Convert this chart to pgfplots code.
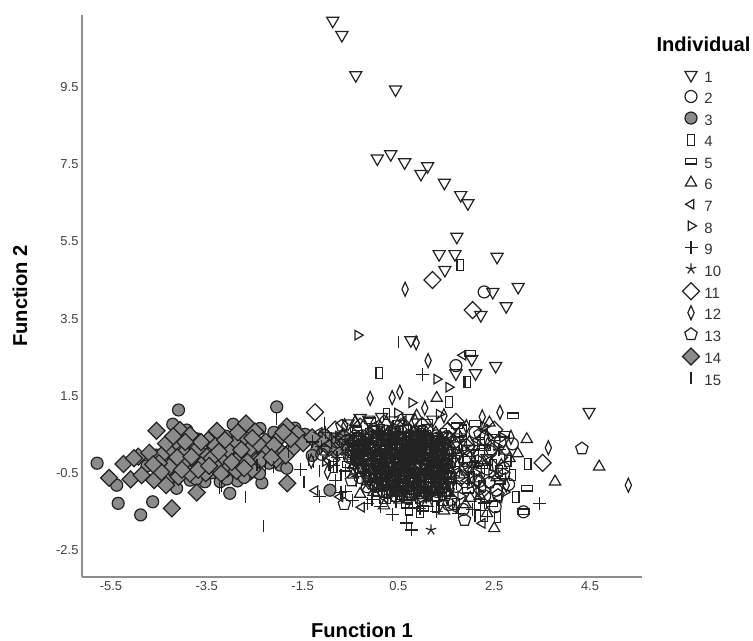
\documentclass[border=0pt]{standalone}
\usepackage{fontspec}
\setmainfont{Liberation Sans}
\usepackage{pgfplots}
\pgfplotsset{compat=1.18}
\definecolor{ink}{HTML}{222222}
\definecolor{gfill}{HTML}{8C8A8A}
\definecolor{spine}{HTML}{8E8E8E}
\pgfplotsset{
 sA/.style={only marks,mark=triangle,mark size=7bp,mark options={rotate=180,draw=ink,fill=none,line width=1.2bp}},
 sB/.style={only marks,mark=o,mark size=6bp,mark options={draw=ink,fill=none,line width=1.2bp}},
 sC/.style={only marks,mark=*,mark size=6bp,mark options={draw=ink,fill=gfill,line width=1.2bp}},
 sD/.style={only marks,mark=square,mark size=5.5bp,mark options={xscale=0.6,draw=ink,fill=none,line width=1.2bp}},
 sE/.style={only marks,mark=square,mark size=5.5bp,mark options={yscale=0.5,draw=ink,fill=none,line width=1.2bp}},
 sF/.style={only marks,mark=triangle,mark size=6.5bp,mark options={draw=ink,fill=none,line width=1.2bp}},
 sG/.style={only marks,mark=triangle,mark size=5.5bp,mark options={rotate=90,draw=ink,fill=none,line width=1.2bp}},
 sH/.style={only marks,mark=triangle,mark size=5.5bp,mark options={rotate=-90,draw=ink,fill=none,line width=1.2bp}},
 sI/.style={only marks,mark=+,mark size=6.5bp,mark options={draw=ink,line width=1.2bp}},
 sJ/.style={only marks,mark=star,mark size=5.5bp,mark options={draw=ink,line width=1.2bp}},
 sK/.style={only marks,mark=diamond,mark size=8.5bp,mark options={xscale=1.33,draw=ink,fill=none,line width=1.2bp}},
 sL/.style={only marks,mark=diamond,mark size=7bp,mark options={xscale=0.6,draw=ink,fill=none,line width=1.2bp}},
 sM/.style={only marks,mark=pentagon,mark size=6.5bp,mark options={draw=ink,fill=none,line width=1.2bp}},
 sN/.style={only marks,mark=diamond*,mark size=8.5bp,mark options={xscale=1.33,draw=ink,fill=gfill,line width=1.2bp}},
 sO/.style={only marks,mark=|,mark size=6bp,mark options={draw=ink,line width=1.2bp}},
}
\begin{document}
\begin{tikzpicture}
\useasboundingbox (-82bp,-64bp) rectangle (671bp,577bp);
\begin{axis}[
 scale only axis,width=560bp,height=562bp,
 xmin=-6.105,xmax=5.585,ymin=-3.2,ymax=11.37,
 axis lines=left,axis line style={-,draw=spine,line width=1.4bp},
 major tick length=0pt,clip=false,
 xtick={-5.5,-3.5,-1.5,0.5,2.5,4.5},
 ytick={-2.5,-0.5,1.5,3.5,5.5,7.5,9.5},
 tick label style={font=\fontsize{13}{14}\selectfont,text=black!75},
 /pgf/number format/.cd,fixed,fixed zerofill,precision=1,assume math mode=true,
 /pgfplots/.cd,
 xticklabel style={yshift=-1bp},
 xlabel={Function 1},ylabel={Function 2},
 every axis x label/.style={at={(axis description cs:0.5,-0.0943)},anchor=center,font=\fontsize{20.2}{21}\selectfont\bfseries},
 every axis y label/.style={at={(axis description cs:-0.1107,0.5)},anchor=center,rotate=90,font=\fontsize{20.2}{21}\selectfont\bfseries},
 legend style={at={(axis description cs:1.072,0.9075)},anchor=north west,draw=none,fill=none,inner sep=0pt,
   font=\fontsize{15}{15}\selectfont,text=black!80,row sep=0bp,
   nodes={inner sep=0pt,text height=15bp,text depth=6.55bp},
   /tikz/every odd column/.style={column sep=5bp}},
 legend cell align=left,
 legend image post style={yshift=3bp},
]
\addlegendimage{sA}\addlegendentry{1}
\addlegendimage{sB}\addlegendentry{2}
\addlegendimage{sC}\addlegendentry{3}
\addlegendimage{sD}\addlegendentry{4}
\addlegendimage{sE}\addlegendentry{5}
\addlegendimage{sF}\addlegendentry{6}
\addlegendimage{sG}\addlegendentry{7}
\addlegendimage{sH}\addlegendentry{8}
\addlegendimage{sI}\addlegendentry{9}
\addlegendimage{sJ}\addlegendentry{10}
\addlegendimage{sK}\addlegendentry{11}
\addlegendimage{sL}\addlegendentry{12}
\addlegendimage{sM}\addlegendentry{13}
\addlegendimage{sN}\addlegendentry{14}
\addlegendimage{sO}\addlegendentry{15}
\node[font=\fontsize{20.2}{21}\selectfont\bfseries,anchor=center] at (axis description cs:1.1098,0.948) {Individual};
% series 3
\addplot[sC,forget plot] coordinates {(-5.79,-0.25)(-5.38,-0.82)(-5.35,-1.29)(-4.88,-1.59)(-4.63,-1.25)(-4.09,1.13)(-4.21,0.76)(-2.04,1.21)(-2.95,0.76)(-2.35,-0.76)(-3.02,-1.03)(-4.13,-0.90)(-0.93,-0.95)(-4.55,-0.04)(-4.75,-0.32)(-4.51,-0.47)(-3.85,-0.69)(-3.54,-0.73)(-3.22,-0.73)(-2.86,-0.71)(-2.53,-0.47)(-1.97,-0.30)(-1.83,-0.38)(-2.39,0.65)(-3.92,0.61)(-4.06,-0.43)(-4.40,-0.60)(-4.28,0.10)(-3.70,0.38)(-3.40,-0.50)(-3.10,0.45)(-2.65,-0.55)(-2.20,-0.25)(-2.10,0.55)(-1.70,0.30)(-1.45,0.50)(-1.20,0.12)(-0.85,0.38)(-4.20,-0.20)(-3.60,-0.30)(-3.00,-0.25)(-2.40,0.20)
(-3.72,-0.66)(-3.08,-0.66)(-2.72,-0.62)(-4.28,-0.62)(-2.40,-0.52)(-1.66,0.66)(-1.30,-0.05)(-1.05,0.48)};
% series 14
\addplot[sN,forget plot] coordinates {(-4.55,0.59)(-5.24,-0.27)(-5.54,-0.63)(-5.09,-0.67)(-4.60,-0.69)(-4.35,-0.82)(-4.23,-1.42)(-3.71,-1.01)(-1.82,-0.77)(-4.93,-0.08)(-4.86,-0.56)(-4.06,0.61)(-3.85,0.48)(-3.47,0.35)(-3.29,0.59)(-2.68,0.78)(-2.49,0.57)(-1.83,0.70)(-1.62,0.52)(-1.49,0.27)(-0.68,0.18)(-0.65,0.44)(-1.97,0.42)(-2.27,0.31)(-2.74,0.37)(-2.91,0.26)(-3.06,0.09)(-2.63,0.09)(-2.18,-0.01)(-1.99,0.09)(-2.82,-0.10)(-3.19,-0.17)(-3.31,-0.34)(-3.50,-0.08)(-3.73,-0.27)(-3.95,0.05)(-4.14,0.31)(-4.35,0.26)(-4.28,-0.34)(-3.99,-0.25)(-4.09,-0.60)(-3.52,-0.51)(-3.07,-0.39)(-2.88,-0.45)(-4.45,-0.05)(-4.70,0.02)(-5.02,-0.12)(-3.70,0.12)(-3.32,0.20)(-2.47,-0.20)(-2.30,0.05)(-2.55,-0.42)(-3.85,-0.52)(-1.72,0.12)(-1.12,0.35)(-0.82,0.08)(-2.05,-0.15)(-3.62,-0.30)(-4.12,-0.10)(-4.20,0.45)(-3.62,0.30)(-3.12,0.35)(-2.85,0.55)(-2.42,0.25)(-2.10,0.22)(-1.75,0.38)(-4.50,-0.25)(-3.82,-0.08)(-3.40,-0.12)(-2.98,-0.22)(-2.65,-0.22)(-2.35,-0.15)(-1.85,-0.05)(-4.45,-0.48)(-3.68,-0.42)(-3.20,-0.52)(-2.72,-0.38)(-4.62,-0.28)(-1.30,0.42)(-0.95,0.15)
(-3.95,0.30)(-3.25,0.05)(-2.55,0.40)(-1.90,0.55)(-4.02,-0.42)(-3.45,-0.32)(-2.78,0.10)(-2.15,-0.10)};
% series 1
\addplot[sA,forget plot] coordinates {(-0.87,11.22)(-0.68,10.85)(-0.39,9.81)(0.44,9.44)(0.06,7.65)(0.34,7.76)(0.63,7.55)(0.97,7.25)(1.11,7.45)(1.46,7.02)(1.80,6.70)(1.95,6.49)(1.72,5.62)(1.35,5.17)(1.68,5.17)(2.56,5.10)(1.47,4.76)(3.00,4.32)(2.47,4.19)(2.75,3.82)(2.22,3.59)(0.76,2.94)(2.03,2.45)(2.53,2.27)(2.11,2.08)(1.70,2.08)(4.48,1.08)(-0.30,0.92)(0.15,0.95)(0.05,0.62)(0.42,0.55)(0.70,0.48)(-0.18,0.40)(0.28,0.22)(0.88,0.30)(1.12,0.18)(-0.35,0.10)(0.55,0.05)(1.30,-0.05)(0.10,-0.12)(0.78,-0.25)(-0.10,-0.38)(0.40,-0.50)(1.02,-0.60)(0.22,-0.72)(0.65,-0.85)(1.25,-0.42)(-0.42,0.25)(0.95,0.62)(1.45,0.12)(0.32,-0.30)(0.60,0.32)(1.08,-0.18)(-0.05,0.18)(0.48,-0.10)(0.85,-0.48)(1.38,-0.70)
(0.40,0.60)(0.96,0.62)(-0.12,0.44)(0.42,0.48)(0.98,0.44)(1.44,0.46)(-0.38,0.36)(0.18,0.38)(0.74,0.36)(1.28,0.36)(-0.18,0.24)(0.38,0.26)(0.94,0.24)(1.50,0.24)(-0.44,0.12)(0.12,0.14)(0.68,0.12)(1.24,0.14)(-0.08,0.00)(0.52,0.02)(1.08,0.00)(1.58,0.02)(-0.34,-0.12)(0.26,-0.10)(0.82,-0.12)(1.38,-0.10)(0.02,-0.24)(0.62,-0.22)(1.18,-0.24)(1.62,-0.22)(-0.28,-0.36)(0.34,-0.34)(0.88,-0.36)(1.44,-0.34)(0.08,-0.48)(0.68,-0.46)(1.22,-0.48)(-0.18,-0.60)(0.42,-0.58)(0.98,-0.60)(1.52,-0.58)(0.18,-0.72)(0.74,-0.70)(1.28,-0.72)(-0.04,-0.84)(0.52,-0.82)(1.08,-0.84)(1.58,-0.82)(0.32,-0.96)(0.88,-0.94)(1.42,-0.96)(0.58,-1.08)(1.12,-1.06)
(-0.55,0.78)(-0.12,0.88)(0.38,0.86)(0.70,0.92)(1.22,0.88)(1.78,0.42)(2.05,0.12)(2.35,-0.12)(1.92,-0.32)};
% series 2
\addplot[sB,forget plot] coordinates {(2.29,4.19)(1.70,2.28)(3.11,-1.51)(2.62,0.30)(2.35,-0.40)(2.10,0.55)(2.80,-0.80)(2.30,-1.10)(1.85,-1.45)(2.55,-0.95)(-0.40,0.45)(-0.10,0.12)(0.25,0.58)(0.58,0.20)(0.92,0.45)(1.20,0.05)(-0.25,-0.35)(0.12,-0.55)(0.48,-0.28)(0.82,-0.72)(1.18,-0.38)(1.42,-0.88)(0.35,0.02)(0.70,-0.12)(1.05,0.28)(-0.52,-0.10)(0.02,-0.85)(0.60,-0.62)(0.95,-1.02)(1.32,0.40)(0.18,0.35)(-0.15,-0.18)(1.55,-0.30)(0.75,0.08)(0.42,-0.90)(1.10,-0.80)
(0.00,0.58)(0.55,0.58)(1.00,0.58)(-0.25,0.46)(0.30,0.46)(0.85,0.46)(1.30,0.46)(-0.50,0.34)(0.05,0.34)(0.60,0.34)(1.15,0.34)(-0.30,0.22)(0.25,0.22)(0.80,0.22)(1.35,0.22)(-0.55,0.10)(0.00,0.10)(0.55,0.10)(1.10,0.10)(-0.20,-0.02)(0.40,-0.02)(0.95,-0.02)(1.45,-0.02)(-0.45,-0.14)(0.15,-0.14)(0.70,-0.14)(1.25,-0.14)(-0.10,-0.26)(0.50,-0.26)(1.05,-0.26)(1.50,-0.26)(-0.40,-0.38)(0.20,-0.38)(0.75,-0.38)(1.30,-0.38)(-0.05,-0.50)(0.55,-0.50)(1.10,-0.50)(1.55,-0.50)(-0.30,-0.62)(0.30,-0.62)(0.85,-0.62)(1.40,-0.62)(0.05,-0.74)(0.60,-0.74)(1.15,-0.74)(-0.15,-0.86)(0.40,-0.86)(0.95,-0.86)(1.45,-0.86)(0.20,-0.98)(0.75,-0.98)(1.30,-0.98)(0.45,-1.10)(1.00,-1.10)
(1.72,0.15)(1.88,-0.18)(2.18,-0.72)(2.42,0.05)(2.70,-0.38)(2.88,0.25)(1.70,-0.85)(2.52,-1.38)(1.55,-1.32)(-0.78,0.30)(-1.10,-0.02)};
% series 4
\addplot[sD,forget plot] coordinates {(1.79,4.89)(0.10,2.09)(1.94,1.86)(1.56,1.33)(3.20,-0.28)(2.57,-1.65)(2.29,-1.62)(2.95,-1.12)(2.60,-0.45)(2.10,-0.05)(1.85,0.60)(2.78,-0.20)(1.70,-1.30)(2.25,-0.85)(-0.20,0.35)(0.08,0.10)(0.38,0.40)(0.65,0.62)(0.90,0.05)(1.22,0.32)(1.48,-0.15)(-0.32,-0.45)(0.05,-0.32)(0.30,-0.78)(0.62,-0.42)(0.88,-0.90)(1.15,-0.58)(1.40,-1.05)(0.45,0.15)(0.78,-0.02)(1.02,-0.30)(-0.48,0.05)(0.20,-0.12)(0.55,-1.05)(1.28,-0.22)(0.95,-0.70)(1.60,-0.60)
(0.14,0.62)(0.68,0.60)(1.14,0.62)(-0.12,0.50)(0.44,0.50)(0.98,0.50)(1.44,0.50)(-0.36,0.38)(0.20,0.38)(0.74,0.38)(1.28,0.38)(-0.16,0.26)(0.40,0.26)(0.94,0.26)(1.48,0.26)(-0.40,0.14)(0.14,0.14)(0.70,0.14)(1.24,0.14)(-0.06,0.02)(0.54,0.02)(1.08,0.02)(1.58,0.02)(-0.30,-0.10)(0.30,-0.10)(0.84,-0.10)(1.38,-0.10)(0.04,-0.22)(0.64,-0.22)(1.18,-0.22)(1.62,-0.22)(-0.26,-0.34)(0.34,-0.34)(0.90,-0.34)(1.44,-0.34)(0.10,-0.46)(0.68,-0.46)(1.24,-0.46)(-0.16,-0.58)(0.44,-0.58)(1.00,-0.58)(1.54,-0.58)(0.20,-0.70)(0.74,-0.70)(1.30,-0.70)(-0.02,-0.82)(0.54,-0.82)(1.10,-0.82)(1.58,-0.82)(0.34,-0.94)(0.88,-0.94)(1.44,-0.94)(0.60,-1.06)(1.14,-1.06)
(1.70,-0.20)(1.85,0.22)(2.02,-0.62)(2.22,0.28)(2.48,-0.30)(2.88,-0.55)(2.15,-1.32)(0.95,-1.52)(0.72,-1.45)(1.28,-1.38)(0.25,1.02)(-0.85,-0.35)};
% series 5
\addplot[sE,forget plot] coordinates {(1.99,2.60)(3.19,-0.90)(2.89,0.98)(3.11,-1.51)(2.70,0.50)(2.30,0.15)(1.95,-0.95)(2.45,-1.30)(2.05,-0.30)(1.72,0.72)(2.62,-0.72)(-0.38,0.62)(-0.08,0.32)(0.22,0.05)(0.52,0.48)(0.82,0.18)(1.12,0.42)(1.38,-0.28)(-0.28,-0.22)(0.00,-0.62)(0.28,-0.42)(0.58,-0.75)(0.85,-0.32)(1.15,-0.95)(1.48,-0.52)(0.38,-0.18)(0.68,0.00)(1.00,-0.08)(-0.55,-0.28)(0.15,0.28)(0.72,-1.12)(1.25,-1.15)(0.92,-0.55)(0.45,0.30)(0.10,-1.05)(1.58,0.08)(-0.62,0.30)(1.05,0.52)
(0.22,-1.22)(0.68,-1.34)(1.02,-1.42)(1.42,-1.28)(1.80,0.38)(1.98,-0.15)(2.25,-0.32)(2.50,0.42)(2.10,0.78)(-0.10,0.85)(0.50,0.78)(1.10,0.82)(0.32,-0.46)(0.72,-0.56)(1.12,-0.12)(-0.15,0.05)(0.48,-0.94)(0.98,0.35)};
% series 6
\addplot[sF,forget plot] coordinates {(4.69,-0.34)(3.77,-0.73)(3.18,0.37)(2.99,0.00)(2.74,0.07)(2.50,-1.94)(1.30,1.44)(2.40,0.80)(2.20,-0.65)(1.98,0.30)(2.65,-0.30)(2.35,-1.55)(2.00,-1.15)(1.78,-0.55)(-0.45,-0.55)(-0.12,0.50)(0.18,-0.22)(0.48,0.12)(0.80,0.40)(1.08,0.10)(1.35,0.22)(-0.22,0.08)(0.08,-0.42)(0.40,-0.65)(0.70,-0.50)(0.98,-0.85)(1.28,-0.65)(1.52,-1.00)(0.30,0.45)(0.60,-0.20)(0.90,-0.15)(1.20,-0.28)(-0.58,0.18)(-0.02,-1.00)(0.52,-1.20)(1.10,-1.28)(-0.30,-1.05)(0.82,-1.32)
(0.28,0.54)(0.82,0.54)(1.28,0.54)(0.02,0.42)(0.58,0.42)(1.12,0.42)(1.56,0.42)(-0.22,0.30)(0.34,0.30)(0.88,0.30)(1.42,0.30)(-0.02,0.18)(0.54,0.18)(1.08,0.18)(1.60,0.18)(-0.28,0.06)(0.28,0.06)(0.84,0.06)(1.38,0.06)(0.08,-0.06)(0.68,-0.06)(1.22,-0.06)(-0.52,-0.06)(-0.18,-0.18)(0.44,-0.18)(0.98,-0.18)(1.52,-0.18)(0.18,-0.30)(0.78,-0.30)(1.32,-0.30)(-0.44,-0.30)(-0.12,-0.42)(0.48,-0.42)(1.04,-0.42)(1.58,-0.42)(0.24,-0.54)(0.82,-0.54)(1.38,-0.54)(-0.02,-0.66)(0.58,-0.66)(1.14,-0.66)(0.34,-0.78)(0.88,-0.78)(1.44,-0.78)(0.12,-0.90)(0.68,-0.90)(1.24,-0.90)(0.48,-1.02)(1.02,-1.02)(1.56,-1.02)(0.72,-1.14)(1.26,-1.14)
(1.75,0.50)(2.28,-0.22)(2.55,-0.62)(2.82,-0.12)(1.90,-1.32)(2.20,-1.10)(0.20,-1.35)(1.45,-1.48)(-0.40,0.82)(0.88,0.98)};
% series 7
\addplot[sG,forget plot] coordinates {(1.85,2.55)(-1.24,-0.96)(-0.27,-1.39)(-0.72,-1.12)(2.25,-1.81)(2.68,-0.62)(2.15,0.35)(1.92,-0.70)(2.40,-0.18)(1.65,-1.40)(-0.95,0.25)(-1.15,0.55)(-0.35,0.38)(-0.05,0.05)(0.25,0.30)(0.55,0.42)(0.85,-0.05)(1.15,0.22)(1.42,0.30)(-0.15,-0.50)(0.15,-0.35)(0.45,-0.85)(0.75,-0.38)(1.05,-0.45)(1.35,-0.82)(-0.40,-0.25)(0.32,-0.08)(0.62,0.10)(0.92,-0.28)(1.22,-0.12)(0.05,-0.72)(0.72,-0.95)(1.48,-0.38)(0.38,0.55)(1.00,0.38)(-0.50,0.35)(0.22,-1.15)
(1.72,-0.48)(2.02,0.12)(2.30,0.60)(2.60,-1.15)(1.98,-0.42)(-0.02,0.70)(0.60,0.85)(0.36,-0.62)(0.96,0.18)(1.30,-0.62)(0.10,-0.20)(0.68,-0.26)(-0.30,0.05)(1.10,-1.00)};
% series 8
\addplot[sH,forget plot] coordinates {(-0.35,3.07)(1.30,1.93)(0.78,1.32)(1.55,1.72)(2.30,0.70)(2.55,0.20)(1.88,0.10)(2.12,-0.50)(2.72,-1.00)(1.80,-1.10)(-0.75,0.45)(-1.02,-0.20)(-0.42,-0.12)(-0.12,0.28)(0.18,0.12)(0.48,-0.02)(0.78,0.25)(1.08,0.50)(1.32,0.02)(-0.20,-0.70)(0.12,-0.10)(0.42,-0.42)(0.72,-0.68)(1.02,-0.15)(1.30,-0.55)(1.50,0.20)(0.28,-0.55)(0.58,-0.30)(0.88,0.12)(1.18,-0.75)(-0.32,0.20)(0.02,0.42)(0.65,0.38)(1.40,-1.15)(0.95,-1.18)
(1.68,0.05)(2.00,-0.80)(2.45,-0.52)(2.18,-1.00)(2.68,0.42)(1.35,1.02)(0.48,1.05)(-0.25,-0.02)(0.80,-0.38)(1.20,0.30)(0.05,-0.42)};
% series 9
\addplot[sI,forget plot] coordinates {(1.00,2.06)(3.44,-1.29)(0.37,-1.59)(0.67,-1.80)(0.78,-1.98)(-1.55,-0.41)(-1.15,-1.12)(-0.60,-0.99)(-0.82,-0.69)(-0.45,-1.22)(-0.15,-1.30)(0.12,-1.38)(0.45,-1.25)(0.95,-1.42)(1.30,-1.50)(1.75,-1.55)(2.30,-1.28)(2.05,-1.45)(-1.30,0.30)(-1.02,0.55)(-0.78,-0.10)(-0.50,0.48)(-0.22,0.30)(0.08,0.18)(0.38,0.32)(0.68,0.15)(0.98,0.22)(1.28,0.12)(-0.35,-0.60)(-0.05,-0.25)(0.25,-0.62)(0.55,-0.15)(0.85,-0.62)(1.15,-0.20)(1.45,-0.62)(0.15,-0.92)(0.58,-0.95)(1.20,-1.05)(0.35,0.10)(0.75,-0.22)(1.05,0.00)(-0.60,-0.45)
(0.10,0.56)(0.46,0.52)(0.78,0.56)(1.22,0.52)(-0.34,0.44)(0.12,0.40)(0.50,0.38)(0.94,0.36)(1.38,0.40)(-0.44,0.28)(-0.08,0.24)(0.30,0.20)(0.72,0.26)(1.18,0.24)(-0.36,0.04)(0.06,0.04)(0.44,0.08)(0.86,0.10)(1.32,0.08)(-0.28,-0.08)(0.24,-0.04)(0.62,-0.10)(1.02,-0.06)(1.48,-0.06)(-0.50,-0.20)(0.02,-0.16)(0.38,-0.22)(0.82,-0.18)(1.28,-0.24)(-0.18,-0.30)(0.14,-0.44)(0.58,-0.36)(0.98,-0.40)(1.42,-0.32)(-0.22,-0.48)(0.30,-0.54)(0.74,-0.58)(1.18,-0.54)(1.54,-0.46)(0.00,-0.68)(0.44,-0.70)(0.92,-0.70)(1.34,-0.68)(0.24,-0.84)(0.70,-0.82)(1.18,-0.86)(0.46,-1.00)(0.98,-0.96)(1.36,-1.02)
(-1.10,0.18)(-0.85,-0.30)(-0.70,-1.00)(1.72,-0.78)(2.10,-0.20)(2.60,0.10)(-0.05,-1.20)};
% series 10
\addplot[sJ,forget plot] coordinates {(1.18,-1.98)(-0.25,0.48)(0.08,0.55)(0.42,0.28)(0.72,0.35)(1.02,0.15)(1.32,0.30)(-0.40,-0.02)(-0.08,-0.10)(0.22,-0.28)(0.52,-0.38)(0.82,-0.10)(1.12,-0.35)(1.42,-0.45)(-0.18,-0.82)(0.10,-0.50)(0.40,-0.98)(0.70,-0.78)(1.00,-0.95)(1.30,-0.95)(0.30,0.18)(0.62,-0.05)(0.95,-0.42)(1.22,0.45)(0.50,-0.55)};
% series 11
\addplot[sK,forget plot] coordinates {(1.21,4.50)(2.05,3.72)(3.51,-0.24)(-1.24,1.07)(-0.82,0.62)(2.30,0.40)(1.70,0.82)(-0.90,-0.15)(-0.30,0.70)(0.20,0.78)(0.62,0.70)(1.00,0.72)(1.52,0.58)(2.60,-0.10)(2.25,-0.95)(0.00,0.20)(0.40,-0.20)(0.80,0.05)(1.15,-0.65)(0.30,-0.70)(-0.20,-0.10)(1.40,-0.20)(1.92,0.18)(2.50,0.62)(1.80,-0.62)};
% series 12
\addplot[sL,forget plot] coordinates {(0.64,4.26)(0.87,2.87)(1.12,2.41)(5.30,-0.82)(3.63,0.15)(2.62,1.07)(-0.09,1.43)(0.37,1.45)(0.53,1.59)(1.05,1.18)(2.25,0.95)(1.92,0.70)(2.85,0.42)(-0.98,-0.48)(-1.32,-0.20)(-0.62,0.72)(-0.28,0.15)(0.02,-0.02)(0.32,0.40)(0.62,0.28)(0.92,0.52)(1.22,-0.02)(1.50,-0.08)(-0.38,-0.38)(-0.02,-0.55)(0.28,-0.15)(0.58,-0.50)(0.88,-0.78)(1.18,-0.48)(1.45,-0.75)(0.18,-0.58)(0.48,-0.72)(0.78,-0.58)(1.08,-1.10)(0.12,0.68)(0.85,0.85)(1.45,0.98)(1.60,-0.92)(1.76,-0.05)(2.38,0.28)(2.75,-0.82)};
% series 13
\addplot[sM,forget plot] coordinates {(4.33,0.13)(1.88,-1.72)(-0.63,-1.31)(2.45,0.10)(2.15,-0.20)(1.90,-0.42)(2.70,-0.55)(2.40,-0.75)(-1.05,0.10)(-0.68,0.72)(-0.32,-0.18)(-0.02,0.36)(0.28,0.50)(0.58,-0.08)(0.88,0.42)(1.18,0.12)(1.42,-0.18)(-0.12,-0.60)(0.18,-0.82)(0.48,-0.45)(0.78,-1.05)(1.08,-0.72)(1.35,-0.32)(0.35,-0.38)(0.65,-0.60)(0.95,-0.35)(1.25,-0.85)(-0.48,-0.70)(0.05,-0.18)(1.55,0.42)(1.60,-1.20)
(0.42,0.60)(1.10,0.60)(-0.06,0.44)(0.70,0.46)(1.50,0.44)(-0.24,0.24)(0.46,0.24)(1.02,0.28)(-0.46,0.08)(0.22,0.10)(0.96,0.12)(1.52,0.10)(-0.14,-0.04)(0.76,-0.02)(1.30,-0.08)(-0.38,-0.16)(0.28,-0.12)(1.10,-0.14)(0.08,-0.32)(0.72,-0.28)(1.48,-0.28)(-0.30,-0.46)(0.60,-0.44)(1.26,-0.40)(0.10,-0.60)(0.96,-0.56)(1.58,-0.62)(0.36,-0.70)(0.80,-0.68)(1.34,-0.76)(0.06,-0.80)(0.60,-0.84)(1.00,-0.90)(0.28,-1.02)(0.84,-1.04)(1.48,-1.08)
(1.68,0.30)(2.12,-0.70)(2.58,-1.08)(2.20,0.50)};
% series 15
\addplot[sO,forget plot] coordinates {(0.51,2.88)(-2.70,-1.12)(-2.32,-1.87)(-1.47,-0.73)(-1.80,0.05)(-1.38,-0.17)(-1.28,-0.22)(-3.24,-0.90)(-2.45,-0.30)(-2.27,-0.32)(-2.10,-0.35)(-2.05,0.90)(-3.20,-0.85)(-1.15,-0.45)(-0.95,-0.30)(-1.05,0.80)(-0.70,-0.55)(-0.45,0.52)(-0.15,0.22)(0.15,0.42)(0.45,0.22)(0.75,0.50)(1.05,0.08)(1.35,0.35)(-0.25,-0.30)(0.05,-0.78)(0.35,-0.25)(0.65,-0.35)(0.95,-0.62)(1.25,-0.30)(1.55,-0.72)(0.25,-1.00)(0.55,-0.88)(0.85,-1.15)(1.15,-0.15)(1.90,1.85)(2.42,-1.00)(2.10,-1.62)(1.78,0.25)(-0.90,0.40)(-0.60,0.02)(-0.38,-0.72)(2.30,-0.45)(1.85,-0.15)};
\end{axis}
\end{tikzpicture}
\end{document}
